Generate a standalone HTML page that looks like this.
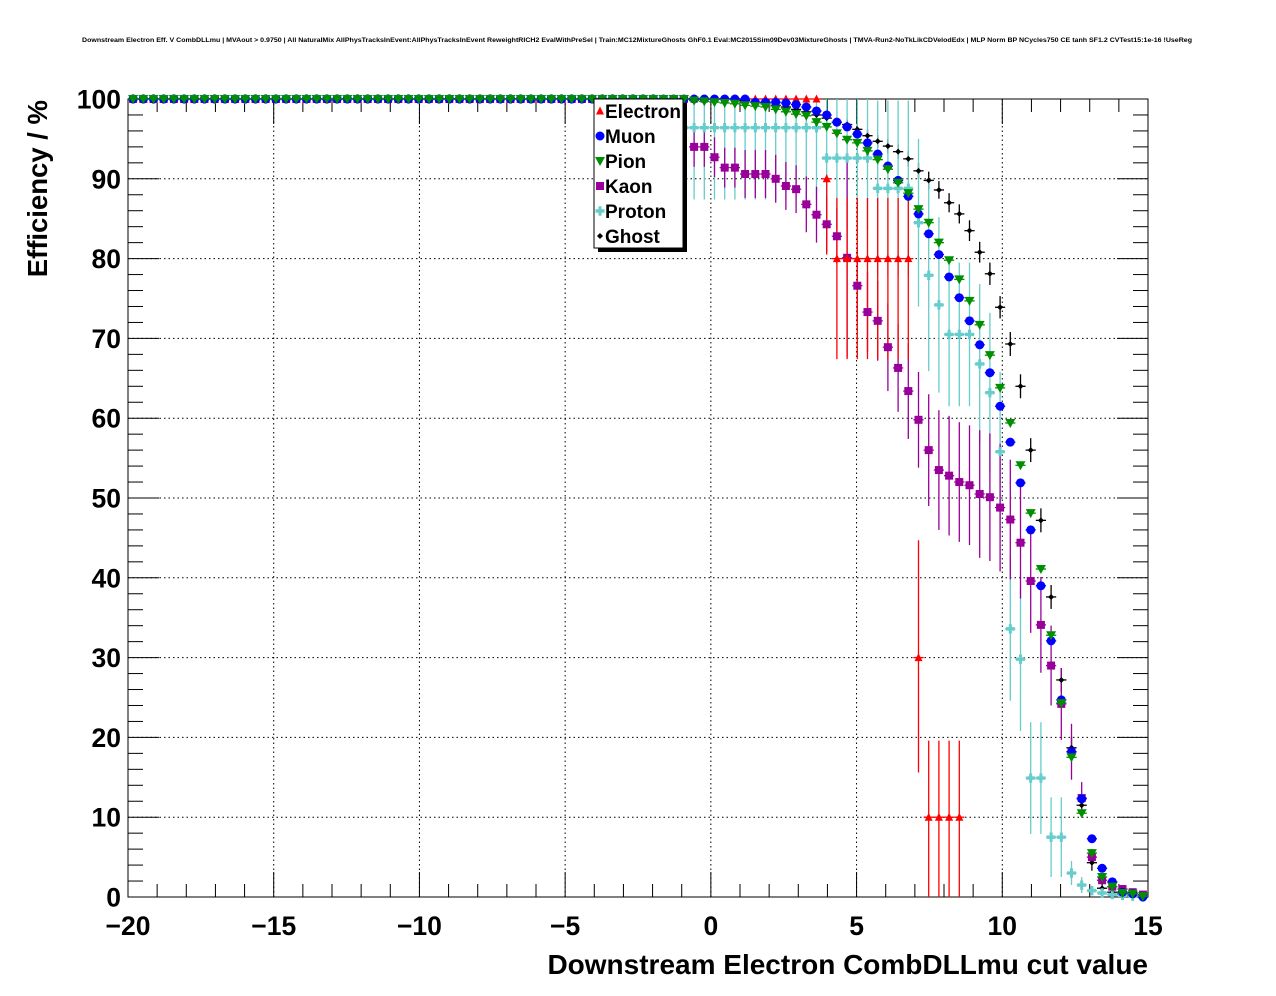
<!DOCTYPE html>
<html><head><meta charset="utf-8"><style>
html,body{margin:0;padding:0;background:#fff;}
svg{display:block;font-family:"Liberation Sans",sans-serif;}
</style></head><body>
<svg id="chart" width="1276" height="996" viewBox="0 0 1276 996" xmlns="http://www.w3.org/2000/svg">
<defs><clipPath id="frameclip"><rect x="128" y="99" width="1020" height="798"/></clipPath></defs>
<rect x="0" y="0" width="1276" height="996" fill="#fff"/>
<text x="637" y="42" text-anchor="middle" font-size="6.5" font-weight="bold" textLength="1110" lengthAdjust="spacingAndGlyphs">Downstream Electron Eff. V CombDLLmu | MVAout &gt; 0.9750 | All NaturalMix AllPhysTracksInEvent:AllPhysTracksInEvent ReweightRICH2 EvalWithPreSel | Train:MC12MixtureGhosts GhF0.1 Eval:MC2015Sim09Dev03MixtureGhosts | TMVA-Run2-NoTkLikCDVelodEdx | MLP Norm BP NCycles750 CE tanh SF1.2 CVTest15:1e-16 !UseReg</text>
<g id="grid"></g>
<g id="axes"></g>
<rect x="128" y="99" width="1020" height="798" fill="none" stroke="#000" stroke-width="1"/>
<g id="series" clip-path="url(#frameclip)"></g>
<g id="seriesTop"></g>
<text transform="translate(47,100) rotate(-90)" text-anchor="end" font-size="27.5" font-weight="bold">Efficiency / %</text>
<text x="1148" y="974" text-anchor="end" font-size="28" font-weight="bold">Downstream Electron CombDLLmu cut value</text>
<g id="legend"></g>
</svg>
<script>
const binLow = -20, binWidth = 0.35;
const xTicks = [-20,-15,-10,-5,0,5,10,15];
const xTickLabels = ["\u221220","\u221215","\u221210","\u22125","0","5","10","15"];
const yTicks = [0,10,20,30,40,50,60,70,80,90,100];
const yTickLabels = ["0","10","20","30","40","50","60","70","80","90","100"];

const electron = [100,100,100,100,100,100,100,100,100,100,100,100,100,100,100,100,100,100,100,100,100,100,100,100,100,100,100,100,100,100,100,100,100,100,100,100,100,100,100,100,100,100,100,100,100,100,100,100,100,100,100,100,100,100,100,100,100,100,100,100,100,100,100,100,100,100,100,100,
90,80,80,80,80,80,80,80,80,30,10,10,10,10,null,null,null,null,null,null,null,null,null,null,null,null,null,null,null,null,null,null];
const electronErrHi = [0,0,0,0,0,0,0,0,0,0,0,0,0,0,0,0,0,0,0,0,0,0,0,0,0,0,0,0,0,0,0,0,0,0,0,0,0,0,0,0,0,0,0,0,0,0,0,0,0,0,0,0,0,0,0,0,0,0,0,0,0,0,0,0,0,0,0,0,
0.5,7.6,7.6,7.6,7.6,7.6,7.6,7.6,7.6,14.7,9.6,9.6,9.6,9.6,0,0,0,0,0,0,0,0,0,0,0,0,0,0,0,0,0,0];
const electronErrLo = [0,0,0,0,0,0,0,0,0,0,0,0,0,0,0,0,0,0,0,0,0,0,0,0,0,0,0,0,0,0,0,0,0,0,0,0,0,0,0,0,0,0,0,0,0,0,0,0,0,0,0,0,0,0,0,0,0,0,0,0,0,0,0,0,0,0,0,0,
9.5,12.6,12.6,12.6,12.6,12.6,12.6,12.6,12.6,14.4,10,10,10,10,0,0,0,0,0,0,0,0,0,0,0,0,0,0,0,0,0,0];
const muon = [100,100,100,100,100,100,100,100,100,100,100,100,100,100,100,100,100,100,100,100,100,100,100,100,100,100,100,100,100,100,100,100,100,100,100,100,100,100,100,100,100,100,100,100,100,100,100,100,100,100,100,100,100,100,100,100,100,100,
100,100,100,99.6,99.6,99.6,99.5,99.3,99.0,98.5,
98.0,97.1,96.5,95.6,94.5,93.1,91.6,89.8,87.8,85.6,83.1,80.5,77.7,75.1,72.2,69.2,65.7,61.5,57.0,51.9,
46.0,39.0,32.1,24.7,18.2,12.3,7.3,3.6,1.9,0.6,0.4,0];
const pion = [100,100,100,100,100,100,100,100,100,100,100,100,100,100,100,100,100,100,100,100,100,100,100,100,100,100,100,100,100,100,100,100,100,100,100,100,100,100,100,100,100,100,100,100,100,100,100,100,100,100,100,100,100,100,100,
99.8,99.7,99.6,
99.5,99.4,99.2,99.1,99.0,98.7,98.4,98.1,97.9,97.1,
96.5,95.7,94.9,94.5,93.5,92.4,91.2,89.5,88.2,86.2,84.5,82.0,79.8,77.4,74.7,71.7,67.9,63.8,59.4,54.1,
48.1,41.1,32.8,24.3,17.5,10.5,5.5,2.5,1.3,0.5,0.4,0.1];
const kaon = [100,100,100,100,100,100,100,100,100,100,100,100,100,100,100,100,100,100,100,100,100,100,100,100,100,100,100,100,100,100,100,100,100,100,100,100,100,100,100,100,100,100,100,100,100,100,100,100,100,100,100,100,100,100,100,
94,94,92.7,91.4,91.4,90.6,90.6,90.6,90.0,89.1,88.7,86.8,85.5,84.3,82.8,80.1,76.6,73.3,72.2,68.9,66.3,63.4,59.8,56.0,53.5,52.8,52.0,51.6,50.5,50.1,48.8,47.3,44.4,39.6,34.1,29.0,24.2,18.2,12.4,5.0,2.1,1.3,1.0,0.6,0.3];
const kaonErr = [0,0,0,0,0,0,0,0,0,0,0,0,0,0,0,0,0,0,0,0,0,0,0,0,0,0,0,0,0,0,0,0,0,0,0,0,0,0,0,0,0,0,0,0,0,0,0,0,0,0,0,0,0,0,0,
2.5,2.5,2.5,2.5,2.5,3,3,3,3,3,3,3.5,3.5,3.5,3.5,12.5,
4.5,5,5,5.5,5.5,6,6,7,7.5,7.5,7.5,7.5,8,8,8,7.5,7,6.5,6,5,4.5,3.5,2,1,0.5,0.3,0.3,0.2,0.2];
const proton = [100,100,100,100,100,100,100,100,100,100,100,100,100,100,100,100,100,100,100,100,100,100,100,100,100,100,100,100,100,100,100,100,100,100,100,100,100,100,100,100,100,100,100,100,100,100,100,100,100,100,100,100,
96.4,96.4,96.4,96.4,96.4,96.4,96.4,96.4,96.4,96.4,96.4,96.4,96.4,96.4,96.4,96.4,
92.6,92.6,92.6,92.6,92.6,88.8,88.8,88.8,88.8,
84.5,77.9,74.2,70.5,70.5,70.5,66.8,63.2,55.8,33.6,29.8,14.9,14.9,7.5,7.5,3.0,1.5,0.8,0.5,0.3,0.2,0.1,0];
const protonErr = [0,0,0,0,0,0,0,0,0,0,0,0,0,0,0,0,0,0,0,0,0,0,0,0,0,0,0,0,0,0,0,0,0,0,0,0,0,0,0,0,0,0,0,0,0,0,0,0,0,0,0,0,
9,9,9,9,9,9,9,9,9,9,9,9,9,9,9,9,
9,9,9,9,9,11,11,11,11,
10.5,12,11,9,9,9,10,10,10,9,9,7,7,5,5,1.5,1,0.5,0.3,0.2,0.1,0.1,0];
const ghost = [100,100,100,100,100,100,100,100,100,100,100,100,100,100,100,100,100,100,100,100,100,100,100,100,100,100,100,100,100,100,100,100,100,100,100,100,100,100,100,100,100,100,100,100,100,100,100,100,100,100,100,100,100,100,100,100,100,100,100,100,
99.8,99.6,99.4,99.2,99.0,98.7,98.4,98.0,97.6,97.1,96.8,
96.2,95.4,94.7,94.1,93.4,92.5,91.0,89.8,88.6,87.0,85.6,83.5,80.8,78.1,73.9,69.3,64.0,56.0,
47.2,37.6,27.2,18.7,11.5,4.3,1.1,0.6,0.4,0.2,0.1];
const ghostErr = [0,0,0,0,0,0,0,0,0,0,0,0,0,0,0,0,0,0,0,0,0,0,0,0,0,0,0,0,0,0,0,0,0,0,0,0,0,0,0,0,0,0,0,0,0,0,0,0,0,0,0,0,0,0,0,0,0,0,0,0,
0.3,0.3,0.3,0.3,0.3,0.4,0.4,0.5,0.5,0.6,0.6,
0.7,0.8,0.8,0.9,0.9,1,1,1.1,1.1,1.2,1.2,1.3,1.3,1.4,1.4,1.5,1.5,1.5,
1.5,1.5,1.5,1.4,1.3,1,0.6,0.4,0.3,0.2,0.1];

const NS = "http://www.w3.org/2000/svg";
const X0 = 128, X1 = 1148, Y0 = 897, Y1 = 99;
const xMin = -20, xMax = 15, yMin = 0, yMax = 100;
function xs(v){ return X0 + (v - xMin) * (X1 - X0) / (xMax - xMin); }
function ys(v){ return Y0 - (v - yMin) * (Y0 - Y1) / (yMax - yMin); }
function mk(tag, attrs, parent){
  const e = document.createElementNS(NS, tag);
  for (const k in attrs) e.setAttribute(k, attrs[k]);
  parent.appendChild(e);
  return e;
}
const grid = document.getElementById('grid');
const axes = document.getElementById('axes');
const series = document.getElementById('series');
const seriesTop = document.getElementById('seriesTop');
const legend = document.getElementById('legend');

xTicks.forEach(function(t){
  if (t === xMin || t === xMax) return;
  const l = mk('line', {x1: xs(t), x2: xs(t), y1: Y1, y2: Y0, stroke: '#000', 'stroke-width': 1, 'stroke-dasharray': '1.5,3'}, grid);
  
  
});
yTicks.forEach(function(t){
  if (t === yMin || t === yMax) return;
  const l = mk('line', {x1: X0, x2: X1, y1: ys(t), y2: ys(t), stroke: '#000', 'stroke-width': 1, 'stroke-dasharray': '1.5,3'}, grid);
  
  
});
for (let v = xMin; v <= xMax; v += 1) {
  const major = (v % 5 === 0);
  const len = major ? 25 : 13;
  const a = mk('line', {x1: xs(v), x2: xs(v), y1: Y0, y2: Y0 - len, stroke: '#000', 'stroke-width': 1}, axes);
  
  
  const b = mk('line', {x1: xs(v), x2: xs(v), y1: Y1, y2: Y1 + len, stroke: '#000', 'stroke-width': 1}, axes);
  
  
}
for (let v = yMin; v <= yMax; v += 2) {
  const major = (v % 10 === 0);
  const len = major ? 31 : 15;
  const a = mk('line', {x1: X0, x2: X0 + len, y1: ys(v), y2: ys(v), stroke: '#000', 'stroke-width': 1}, axes);
  
  
  const b = mk('line', {x1: X1, x2: X1 - len, y1: ys(v), y2: ys(v), stroke: '#000', 'stroke-width': 1}, axes);
  
  
}
xTicks.forEach(function(t, i){
  const tx = mk('text', {x: xs(t), y: 935, 'text-anchor': 'middle', 'font-size': 26.5, 'font-weight': 'bold'}, axes);
  
  
  tx.textContent = xTickLabels[i];
});
yTicks.forEach(function(t, i){
  const tx = mk('text', {x: 121, y: ys(t) + 9.5, 'text-anchor': 'end', 'font-size': 26.5, 'font-weight': 'bold'}, axes);
  
  
  tx.textContent = yTickLabels[i];
});

function marker(kind, cx, cy, color, parent){
  let e;
  if (kind === 'tri-up') e = mk('polygon', {points: (cx-4)+','+(cy+3.5)+' '+(cx+4)+','+(cy+3.5)+' '+cx+','+(cy-4.5), fill: color}, parent);
  else if (kind === 'circle') e = mk('circle', {cx: cx, cy: cy, r: 4.5, fill: color}, parent);
  else if (kind === 'tri-down') e = mk('polygon', {points: (cx-5)+','+(cy-4)+' '+(cx+5)+','+(cy-4)+' '+cx+','+(cy+5), fill: color}, parent);
  else if (kind === 'square') e = mk('rect', {x: cx-4, y: cy-4, width: 8, height: 8, fill: color}, parent);
  else if (kind === 'cross') e = mk('path', {d: 'M'+(cx-4.5)+','+(cy-1.7)+'h3v-3h3v3h3v3.4h-3v3h-3v-3h-3z', fill: color}, parent);
  else e = mk('polygon', {points: (cx-3)+','+cy+' '+cx+','+(cy-3)+' '+(cx+3)+','+cy+' '+cx+','+(cy+3), fill: color}, parent);
  return e;
}

const defs = [
  {name: 'electron', label: 'Electron', vals: electron, hi: electronErrHi, lo: electronErrLo, color: '#ff0000', kind: 'tri-up'},
  {name: 'muon', label: 'Muon', vals: muon, hi: null, lo: null, color: '#0000ff', kind: 'circle'},
  {name: 'pion', label: 'Pion', vals: pion, hi: null, lo: null, color: '#008f00', kind: 'tri-down'},
  {name: 'kaon', label: 'Kaon', vals: kaon, hi: kaonErr, lo: kaonErr, color: '#990099', kind: 'square'},
  {name: 'proton', label: 'Proton', vals: proton, hi: protonErr, lo: protonErr, color: '#66cccc', kind: 'cross'},
  {name: 'ghost', label: 'Ghost', vals: ghost, hi: ghostErr, lo: ghostErr, color: '#000000', kind: 'diamond'}
];
const drawOrder = [5, 4, 3, 0, 1, 2];

drawOrder.forEach(function(idx){
  const s = defs[idx];
  const g = mk('g', {}, series);
  
  
  const gm = mk('g', {}, seriesTop);
  
  
  s.vals.forEach(function(v, i){
    if (v === null || v === undefined) return;
    const c = binLow + binWidth * (i + 0.5);
    const cx = xs(c), cy = ys(v);
    const hl = mk('line', {x1: xs(c - binWidth/2), x2: xs(c + binWidth/2), y1: cy, y2: cy, stroke: s.color, 'stroke-width': 1.3}, gm);
    
    
    if (s.hi && (s.hi[i] > 0 || s.lo[i] > 0)) {
      const vl = mk('line', {x1: cx, x2: cx, y1: ys(v + s.hi[i]), y2: ys(Math.max(0, v - s.lo[i])), stroke: s.color, 'stroke-width': 1.3}, g);
      
      
    }
    const m = marker(s.kind, cx, cy, s.color, gm);
    
    
  });
});

const lx = 594, ly = 99, lw = 89, lh = 149;
const sh = mk('rect', {x: lx + 4, y: ly + 4, width: lw, height: lh, fill: '#000'}, legend);


const bx = mk('rect', {x: lx, y: ly, width: lw, height: lh, fill: '#fff', stroke: '#000', 'stroke-width': 1}, legend);


defs.forEach(function(s, k){
  const yy = 111 + 25 * k;
  const ge = mk('g', {}, legend);
  
  
  const m = marker(s.kind, 600, yy, s.color, ge);
  
  
  const t = mk('text', {x: 605, y: yy + 7, 'font-size': 19, 'font-weight': 'bold'}, ge);
  
  
  t.textContent = s.label;
});
</script>
</body></html>
